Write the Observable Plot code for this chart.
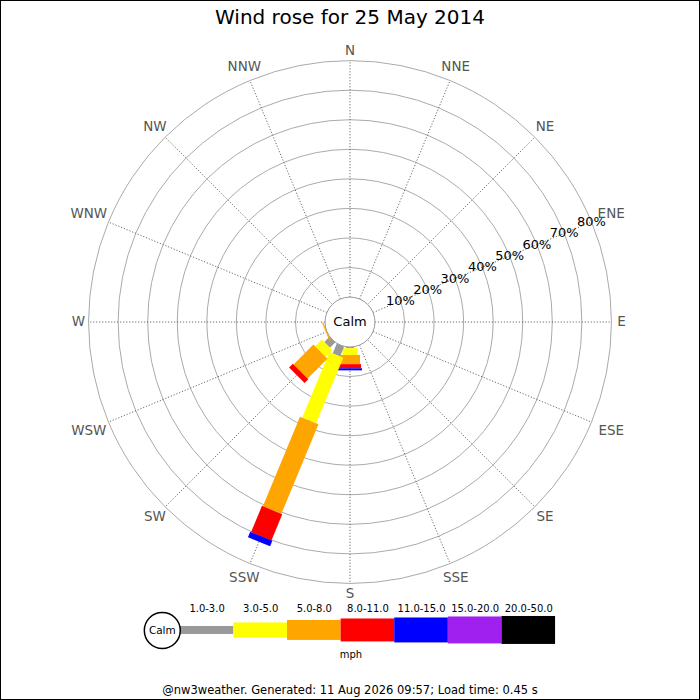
<!DOCTYPE html>
<html>
<head>
<meta charset="utf-8">
<script src="https://cdn.jsdelivr.net/npm/d3@7"></script>
<script src="https://cdn.jsdelivr.net/npm/@observablehq/plot@0.6"></script>
<style>
  body { margin: 0; background: #fff; font-family: "DejaVu Sans", sans-serif; }
  #frame { position: relative; width: 700px; height: 700px; box-sizing: border-box; border: 1px solid #000; overflow: hidden; }
  #title { position: absolute; top: 4px; left: 0; width: 100%; text-align: center; font-size: 20px; }
  #chart { position: absolute; top: -1px; left: -1px; }
  #legend { position: absolute; top: 601px; left: -1px; }
  #foot { position: absolute; top: 682px; left: 0; width: 100%; text-align: center; font-size: 11.5px; }
</style>
</head>
<body>
<div id="frame">
  <div id="chart"></div>
  <div id="title">Wind rose for 25 May 2014</div>
  <div id="legend"></div>
  <div id="foot">@nw3weather. Generated: 11 Aug 2026 09:57; Load time: 0.45 s</div>
</div>
<script>
// 16 compass points, clockwise from N
const directions = ['N','NNE','NE','ENE','E','ESE','SE','SSE','S','SSW','SW','WSW','W','WNW','NW','NNW']
const speedRanges = ['1.0-3.0','3.0-5.0','5.0-8.0','8.0-11.0','11.0-15.0','15.0-20.0','20.0-50.0']

// % of time per direction, one array per speed range (mph)
const pct1to3   = [0,0,0,0,0,0,0,0, 0.4, 3.6, 2.5, 0,   0,0,0,0]
const pct3to5   = [0,0,0,0,0,0,0,0, 2.3, 24.0, 3.2, 0,  0,0,0,0]
const pct5to8   = [0,0,0,0,0,0,0,0, 3.1, 32.8, 9.5, 0.4, 0,0,0,0]
const pct8to11  = [0,0,0,0,0,0,0,0, 1.4, 9.6, 1.8, 0,   0,0,0,0]
const pct11to15 = [0,0,0,0,0,0,0,0, 0.7, 2.0, 0,   0,   0,0,0,0]
const pct15to20 = [0,0,0,0,0,0,0,0, 0,   0,   0,   0,   0,0,0,0]
const pct20to50 = [0,0,0,0,0,0,0,0, 0,   0,   0,   0,   0,0,0,0]

const ringPcts = [10, 20, 30, 40, 50, 60, 70, 80]
const ringLabels = ['10%','20%','30%','40%','50%','60%','70%','80%']

// styles
const rangeColors = ['#999999','#ffff00','#ffa500','#ff0000','#0000ff','#a020f0','#000000']
const barWidth = [8, 15, 20, 22, 24, 26, 28]      // px, in the rose
const keyHeight = [8, 15, 20, 23, 25, 27, 28]     // px, in the legend

const series = [pct1to3, pct3to5, pct5to8, pct8to11, pct11to15, pct15to20, pct20to50]

const k = 2.96            // px per 1 %
const calm0 = 25 / k      // calm circle radius, in % units
const rad = i => i * Math.PI / 8

/* stacked segments per direction */
const segments = []
directions.forEach((dir, i) => {
  let cum = 0
  series.forEach((s, j) => {
    const v = s[i]
    if (v > 0) segments.push({dir: i, range: j, p0: cum, p1: cum + v})
    cum += v
  })
})

const px = (p, i) => (calm0 + p) * Math.sin(rad(i))
const py = (p, i) => (calm0 + p) * Math.cos(rad(i))
const labelR = (d, i) => (272 + 6 * (d.length - 1) * Math.abs(Math.sin(rad(i)))) / k

let chart = Plot.plot({
  width: 700,
  height: 612,
  margin: 0,
  style: {fontFamily: '"DejaVu Sans", sans-serif', background: 'transparent'},
  x: {domain: [-350 / k, 350 / k], axis: null},
  y: {domain: [-290 / k, 322 / k], axis: null},
  r: {type: 'identity'},
  marks: [
    // rings
    Plot.dot(ringPcts, {x: () => 0, y: () => 0, r: p => (calm0 + p) * k, stroke: '#aaaaaa', fill: 'none', strokeWidth: 1}),
    // spokes
    Plot.link(directions, {
      x1: (d, i) => px(0, i), y1: (d, i) => py(0, i),
      x2: (d, i) => px(80, i), y2: (d, i) => py(80, i),
      stroke: '#444', strokeWidth: 0.8, strokeDasharray: '1.2,1.8'
    }),
    // calm circle
    Plot.dot([0], {x: () => 0, y: () => 0, r: calm0 * k, fill: 'white', stroke: '#999', strokeWidth: 1}),
    Plot.text(['Calm'], {x: () => 0, y: () => 0, text: d => d, fontSize: 13, fill: 'black'}),
    // bars
    Plot.link(segments, {
      x1: d => px(d.p0, d.dir), y1: d => py(d.p0, d.dir),
      x2: d => px(d.p1, d.dir), y2: d => py(d.p1, d.dir),
      stroke: d => rangeColors[d.range],
      strokeWidth: d => barWidth[d.range],
      strokeLinecap: 'butt'
    }),
    // ring labels along ENE
    Plot.text(ringPcts, {
      x: p => px(p, 3), y: p => py(p, 3),
      text: (p, i) => ringLabels[i], fontSize: 13, fill: 'black'
    }),
    // compass labels
    Plot.text(directions, {
      x: (d, i) => labelR(d, i) * Math.sin(rad(i)),
      y: (d, i) => labelR(d, i) * Math.cos(rad(i)),
      text: d => d, fontSize: 13.5, fill: '#555'
    }),
  ],
})
d3.select('#chart').append(() => chart)

/* legend */
const keyX0 = 180, keyW = 53.7, keyY = 28
let legend = Plot.plot({
  width: 700,
  height: 68,
  margin: 0,
  style: {fontFamily: '"DejaVu Sans", sans-serif', background: 'transparent'},
  x: {type: 'identity', axis: null},
  y: {type: 'identity', axis: null},
  r: {type: 'identity'},
  marks: [
    Plot.rect(speedRanges, {
      x1: (d, i) => keyX0 + i * keyW, x2: (d, i) => keyX0 + (i + 1) * keyW,
      y1: (d, i) => keyY - keyHeight[i] / 2, y2: (d, i) => keyY + keyHeight[i] / 2,
      fill: (d, i) => rangeColors[i]
    }),
    Plot.text(speedRanges, {
      x: (d, i) => keyX0 + (i + 0.5) * keyW, y: () => 6,
      text: d => d, fontSize: 10, fill: 'black'
    }),
    Plot.dot(['Calm'], {x: () => 162, y: () => keyY, r: () => 18, fill: 'white', stroke: 'black'}),
    Plot.text(['Calm'], {x: () => 162, y: () => keyY, text: d => d, fontSize: 10.5, fill: 'black'}),
    Plot.text(['mph'], {x: () => 351, y: () => 52, text: d => d, fontSize: 10, fill: 'black'}),
  ],
})
d3.select('#legend').append(() => legend)
</script>
</body>
</html>
